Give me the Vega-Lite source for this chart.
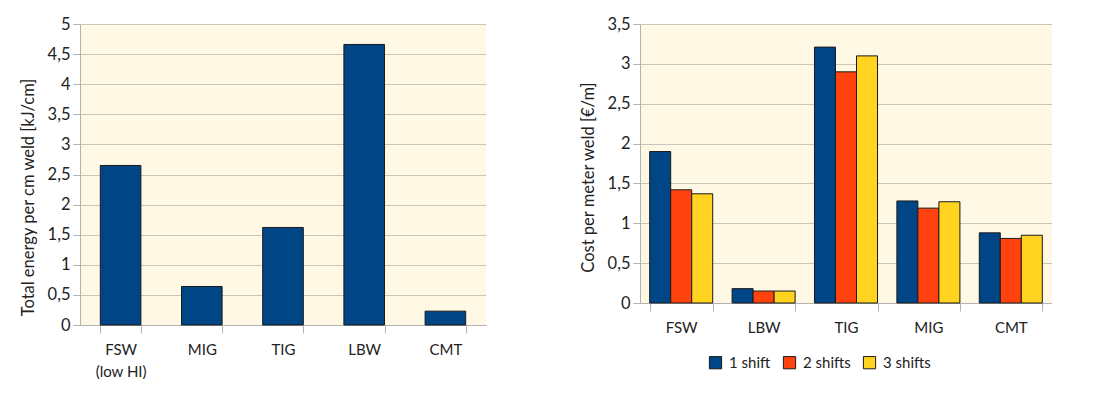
{
  "$schema": "https://vega.github.io/schema/vega-lite/v6.json",
  "padding": {"left": 20, "top": 16, "right": 0, "bottom": 0},
  "background": "white",
  "config": {
    "font": "Lato",
    "view": {"fill": "#fff8e5", "stroke": null},
    "axis": {
      "domainColor": "#b3b3b3",
      "tickColor": "#b3b3b3",
      "gridColor": "#c9c5bd",
      "labelColor": "#222222",
      "titleColor": "#222222",
      "titleFontWeight": "normal",
      "labelFont": "Lato",
      "titleFont": "Lato"
    },
    "concat": {"spacing": 94}
  },
  "datasets": {
    "energy": [
      {"process": "FSW (low HI)", "energy": 2.65},
      {"process": "MIG", "energy": 0.64},
      {"process": "TIG", "energy": 1.62},
      {"process": "LBW", "energy": 4.66},
      {"process": "CMT", "energy": 0.23}
    ],
    "cost": [
      {"process": "FSW", "shift": "1 shift", "cost": 1.90},
      {"process": "FSW", "shift": "2 shifts", "cost": 1.42},
      {"process": "FSW", "shift": "3 shifts", "cost": 1.37},
      {"process": "LBW", "shift": "1 shift", "cost": 0.18},
      {"process": "LBW", "shift": "2 shifts", "cost": 0.15},
      {"process": "LBW", "shift": "3 shifts", "cost": 0.15},
      {"process": "TIG", "shift": "1 shift", "cost": 3.21},
      {"process": "TIG", "shift": "2 shifts", "cost": 2.90},
      {"process": "TIG", "shift": "3 shifts", "cost": 3.10},
      {"process": "MIG", "shift": "1 shift", "cost": 1.28},
      {"process": "MIG", "shift": "2 shifts", "cost": 1.19},
      {"process": "MIG", "shift": "3 shifts", "cost": 1.27},
      {"process": "CMT", "shift": "1 shift", "cost": 0.88},
      {"process": "CMT", "shift": "2 shifts", "cost": 0.81},
      {"process": "CMT", "shift": "3 shifts", "cost": 0.85}
    ]
  },
  "hconcat": [
    {
      "width": 406,
      "height": 301,
      "data": {"name": "energy"},
      "mark": {"type": "bar", "color": "#004586", "stroke": "#1a1a1a", "strokeWidth": 1},
      "encoding": {
        "x": {
          "field": "process", "type": "nominal", "sort": null,
          "scale": {"paddingInner": 0.5, "paddingOuter": 0.25},
          "axis": {
            "title": null, "labelAngle": 0, "tickBand": "extent", "tickSize": 8,
            "labelPadding": 9, "labelFontSize": 15, "grid": false,
            "labelExpr": "datum.value == 'FSW (low HI)' ? ['FSW', '(low HI)'] : datum.value",
            "labelLineHeight": 22
          }
        },
        "y": {
          "field": "energy", "type": "quantitative",
          "scale": {"domain": [0, 5], "nice": false},
          "axis": {
            "values": [0, 0.5, 1, 1.5, 2, 2.5, 3, 3.5, 4, 4.5, 5],
            "labelExpr": "replace(format(datum.value, '.1~f'), '.', ',')",
            "title": "Total energy per cm weld [kJ/cm]",
            "titleFontSize": 16.5, "labelFontSize": 16.5, "tickSize": 7, "labelPadding": 3,
            "titlePadding": 11, "titleY": 173
          }
        }
      }
    },
    {
      "width": 412,
      "height": 279,
      "data": {"name": "cost"},
      "mark": {"type": "bar", "stroke": "#1a1a1a", "strokeWidth": 1},
      "encoding": {
        "x": {
          "field": "process", "type": "nominal", "sort": null,
          "scale": {"paddingInner": 0.235, "paddingOuter": 0.1175},
          "axis": {
            "title": null, "labelAngle": 0, "tickBand": "extent", "tickSize": 8,
            "labelPadding": 9, "labelFontSize": 15, "grid": false
          }
        },
        "xOffset": {"field": "shift", "type": "nominal", "sort": null, "scale": {"paddingInner": 0, "paddingOuter": 0}},
        "y": {
          "field": "cost", "type": "quantitative",
          "scale": {"domain": [0, 3.5], "nice": false},
          "axis": {
            "values": [0, 0.5, 1, 1.5, 2, 2.5, 3, 3.5],
            "labelExpr": "replace(format(datum.value, '.1~f'), '.', ',')",
            "title": "Cost per meter weld [€/m]",
            "titleFontSize": 16.5, "labelFontSize": 16.5, "tickSize": 7, "labelPadding": 3,
            "titlePadding": 11, "titleY": 153
          }
        },
        "color": {
          "field": "shift", "type": "nominal", "sort": null,
          "scale": {"range": ["#004586", "#ff420e", "#ffd320"]},
          "legend": {
            "title": null, "orient": "none", "legendX": 628, "legendY": 331,
            "direction": "horizontal", "symbolType": "square", "symbolSize": 150,
            "symbolStrokeColor": "#1a1a1a", "symbolStrokeWidth": 1,
            "labelFontSize": 15, "labelColor": "#222222", "labelOffset": 6, "columnPadding": 10
          }
        }
      }
    }
  ]
}
